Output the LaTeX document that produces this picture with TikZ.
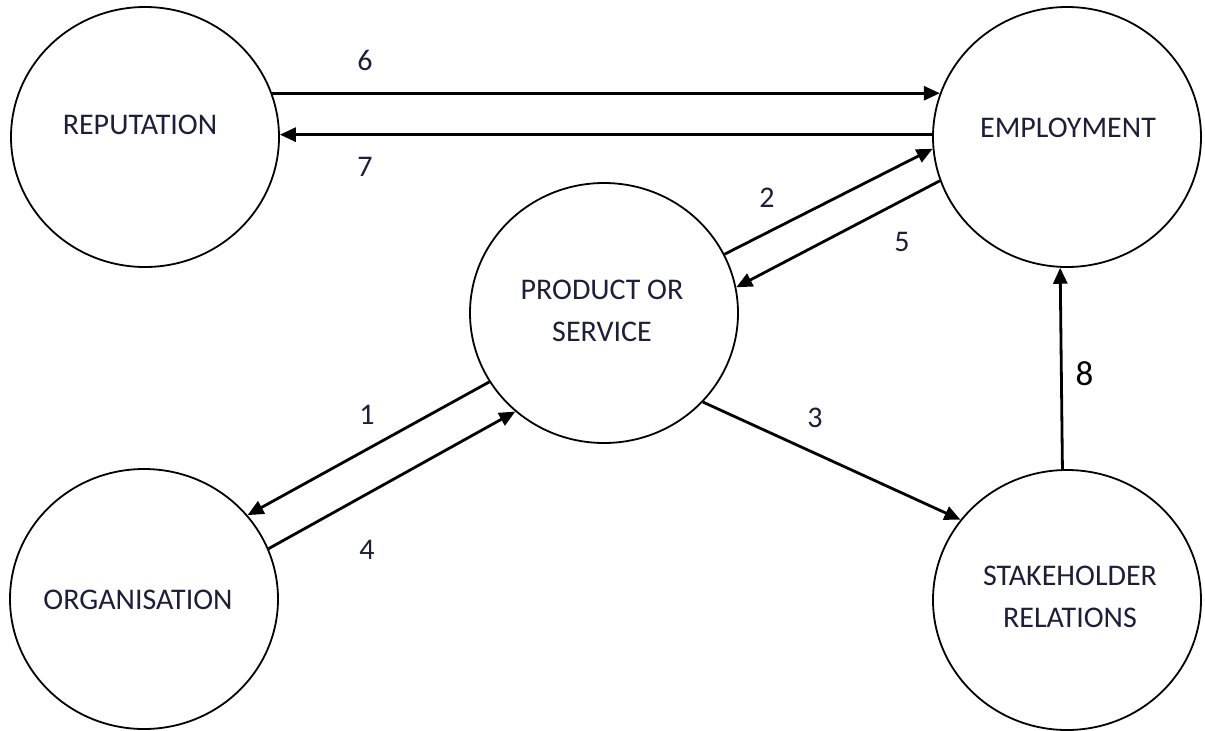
\documentclass[tikz,border=0pt]{standalone}
\usepackage{fontspec}
\setmainfont{Carlito}
\usetikzlibrary{arrows.meta,shapes.geometric}
\definecolor{ink}{HTML}{1E1E38}
\begin{document}
\begin{tikzpicture}[x=1pt,y=-1pt,
  topic/.style={ellipse,draw=black,line width=1.8pt,minimum width=268pt,minimum height=260pt,inner sep=0pt},
  caption/.style={text=ink,font=\fontsize{30}{42}\selectfont,align=center,inner sep=0pt},
  num/.style={text=ink,font=\fontsize{30}{34}\selectfont,inner sep=0pt},
  flow/.style={line width=2.8pt,-{Triangle[length=16pt,width=14pt]}},
]
\useasboundingbox (0,0) rectangle (1205,731);

% the five circles
\node[topic] (rep)   at (145,137) {};
\node[topic] (emp)   at (1067,137) {};
\node[topic] (prod)  at (604,313) {};
\node[topic] (org)   at (144,599) {};
\node[topic] (stake) at (1067,600) {};

% circle captions
\node[caption] (reptxt)   at (140,125) {REPUTATION};
\node[caption] (emptxt)   at (1068,128) {EMPLOYMENT};
\node[caption] (prodtxt)  at (602,311) {PRODUCT OR\\SERVICE};
\node[caption] (orgtxt)   at (138,600) {ORGANISATION};
\node[caption] (staketxt) at (1070,597) {STAKEHOLDER\\RELATIONS};

% flows
\draw[flow] (rep.19)     -- (emp.161);
\draw[flow] (emp.179)    -- (rep.1);
\draw[flow] (prod.26)    -- (emp.185.9);
\draw[flow] (emp.199.9)  -- (prod.11);
\draw[flow] (prod.211.6) -- (org.39.9);
\draw[flow] (org.22.9)   -- (prod.228);
\draw[flow] (prod.318.4) -- (stake.143.4);
\draw[flow] (stake.92.2) -- (emp.267.8);

% flow numbers
\node[num] (n6) at (365,60)  {6};
\node[num] (n7) at (365,167) {7};
\node[num] (n2) at (767,198) {2};
\node[num] (n5) at (902,242) {5};
\node[num] (n1) at (367,415) {1};
\node[num] (n4) at (367,550) {4};
\node[num] (n3) at (815,418) {3};
\node[fill=white,anchor=west,minimum height=58pt,inner xsep=12pt,inner ysep=0pt,
      font=\fontsize{35}{40}\selectfont] (n8) at (1063.5,374) {8};
\end{tikzpicture}
\end{document}
